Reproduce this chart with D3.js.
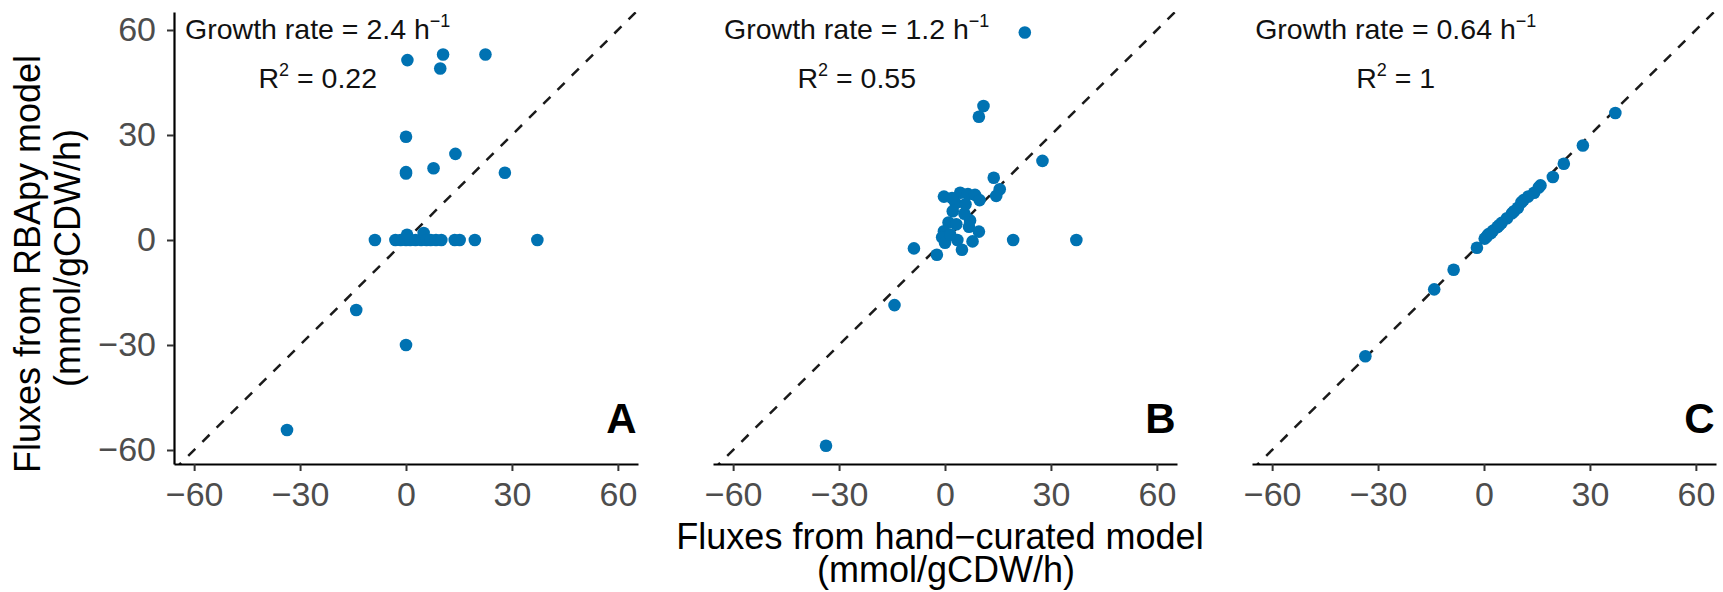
<!DOCTYPE html>
<html>
<head>
<meta charset="utf-8">
<script src="https://cdn.jsdelivr.net/npm/d3@7"></script>
<style>
  html, body { margin: 0; padding: 0; background: #ffffff; }
  svg { display: block; }
  text { font-family: "Liberation Sans", Arial, Helvetica, sans-serif; }
</style>
</head>
<body>
<svg id="chart" width="1723" height="592"></svg>
<script>
// Panel identifiers and their annotations
const panelLabels = ["A", "B", "C"];
const growthRates = ["2.4", "1.2", "0.64"];
const rSquared = ["0.22", "0.55", "1"];
const tickValues = [-60, -30, 0, 30, 60];

// Fluxes (mmol/gCDW/h): hand-curated model (x) vs RBApy model (y)
const fluxA_x = [0.4, 10.5, 22.5, 9.7, 0, 14, 0, 7.8, 28, 0,
                 -8.8, -3, -1.5, 0, 0.3, 1.2, 2.7, 4.3, 5, 5.8,
                 7, 8.5, 10, 13.8, 15.2, 19.5, 37.2,
                 -14.1, 0, -33.7];
const fluxA_y = [51.4, 53, 53, 49, 29.5, 24.6, 19.4, 20.5, 19.2, 19,
                 0, 0, 0, 0, 1.5, 0, 0, 0, 2, 0,
                 0, 0, 0, 0, 0, 0, 0,
                 -20, -30, -54.3];

const fluxB_x = [22.6, 10.9, 9.6, 27.6, 13.8, 15.5, 14.5, -0.3, 4.3, 6.5,
                 8.5, 9.8, 3, 2.2, 7.1, 1, 6.8, 9.6, -0.3, -0.8,
                 0, 3.5, 7.8, 4.8, 19.3, 37.2, -8.8, -2.3, -14.3, -33.7,
                 1.5, 5.5, 2, 5.8, 3.2];
const fluxB_y = [59.3, 38.3, 35.2, 22.6, 17.8, 14.5, 12.6, 12.4, 13.5, 13.1,
                 12.9, 11.4, 10.5, 8.2, 5.6, 5, 3.8, 2.4, 2.5, 0.8,
                 -0.8, 0, -0.4, -2.8, 0, 0, -2.4, -4.2, -18.6, -58.8,
                 1.5, 7.5, 12, 10.2, 4.5];

const fluxC_x = [37.2, 28, 22.6, 19.5, 15.5, 14.2, 10.6, 9.6, 7.9, 6.5,
                 5, 3.8, 2.5, 1.2, 0.2, -2, -8.6, -14.1, -33.6,
                 4.3, 11.2, 8.5, 0.8, 2, 12.5, 16];
const fluxC_y = [36.3, 27, 21.8, 18, 15, 13.5, 10.8, 9.2, 7.6, 6.2,
                 4.9, 3.7, 2.6, 1.6, 0.4, -2.2, -8.5, -14.1, -33.2,
                 4.2, 11.4, 8.2, 1, 2, 12.4, 15.6];

const panelX = [fluxA_x, fluxB_x, fluxC_x];
const panelY = [fluxA_y, fluxB_y, fluxC_y];

// Layout
const panelLeft = [174, 713, 1252];
const panelWidth = 464;
const panelTop = 12, panelBottom = 464;
const pointColor = "#0072B2";

const svg = d3.select("#chart");

const y = d3.scaleLinear().domain([-64, 65.14]).range([panelBottom, panelTop]);

panelLabels.forEach((label, i) => {
  const left = panelLeft[i];
  const x = d3.scaleLinear().domain([-65.7, 65.7]).range([left, left + panelWidth]);
  const g = svg.append("g");

  const clipId = "clip" + label;
  svg.append("clipPath").attr("id", clipId)
    .append("rect")
    .attr("x", left).attr("y", panelTop)
    .attr("width", panelWidth).attr("height", panelBottom - panelTop);

  // identity line y = x
  g.append("line")
    .attr("clip-path", `url(#${clipId})`)
    .attr("x1", x(-65.7)).attr("y1", y(-65.7))
    .attr("x2", x(65.7)).attr("y2", y(65.7))
    .attr("stroke", "#1a1a1a")
    .attr("stroke-width", 2.5)
    .attr("stroke-dasharray", "10,10");

  // points
  const pts = panelX[i].map((v, k) => ({ x: v, y: panelY[i][k] }));
  g.append("g").selectAll("circle").data(pts).join("circle")
    .attr("cx", d => x(d.x))
    .attr("cy", d => y(d.y))
    .attr("r", 6.3)
    .attr("fill", pointColor);

  // x axis
  const xAxis = g.append("g")
    .attr("transform", `translate(0,${panelBottom})`)
    .call(d3.axisBottom(x).tickValues(tickValues).tickSize(7).tickPadding(11).tickSizeOuter(0));
  xAxis.select(".domain").attr("stroke", "#000").attr("stroke-width", 2.2);
  xAxis.selectAll(".tick line").attr("stroke", "#333").attr("stroke-width", 2);
  xAxis.selectAll(".tick text").attr("fill", "#4D4D4D").attr("font-size", 34)
    .attr("font-family", "Liberation Sans, Arial, sans-serif");

  // y axis only on first panel
  if (i === 0) {
    const yAxis = g.append("g")
      .attr("transform", `translate(${left},0)`)
      .call(d3.axisLeft(y).tickValues(tickValues).tickSize(7).tickPadding(11).tickSizeOuter(0));
    yAxis.select(".domain").attr("stroke", "#000").attr("stroke-width", 2.2);
    yAxis.selectAll(".tick line").attr("stroke", "#333").attr("stroke-width", 2);
    yAxis.selectAll(".tick text").attr("fill", "#4D4D4D").attr("font-size", 34)
      .attr("font-family", "Liberation Sans, Arial, sans-serif");
  }

  // growth rate annotation
  const t1 = g.append("text")
    .attr("x", x(-25)).attr("y", y(60)).attr("dy", 9)
    .attr("text-anchor", "middle").attr("font-size", 28.5).attr("fill", "#111");
  t1.append("tspan").text(`Growth rate = ${growthRates[i]} h`);
  t1.append("tspan").attr("font-size", 18).attr("dy", -12).text("\u22121");

  // R squared annotation
  const t2 = g.append("text")
    .attr("x", x(-25)).attr("y", y(46)).attr("dy", 9.5)
    .attr("text-anchor", "middle").attr("font-size", 28.5).attr("fill", "#111");
  t2.append("tspan").text("R");
  t2.append("tspan").attr("font-size", 18).attr("dy", -12).text("2");
  t2.append("tspan").attr("dy", 12).text(` = ${rSquared[i]}`);

  // panel letter
  g.append("text")
    .attr("x", x(65.3)).attr("y", y(-55.1))
    .attr("text-anchor", "end")
    .attr("font-size", 42).attr("font-weight", "bold").attr("fill", "#000")
    .text(label);
});

// axis titles
const xTitle = svg.append("text").attr("text-anchor", "middle")
  .attr("font-size", 36).attr("fill", "#000");
xTitle.append("tspan").attr("x", 940).attr("y", 549).text("Fluxes from hand\u2212curated model");
xTitle.append("tspan").attr("x", 946).attr("y", 582).text("(mmol/gCDW/h)");

const yTitle = svg.append("g");
yTitle.append("text").attr("transform", "translate(40,264) rotate(-90)")
  .attr("text-anchor", "middle").attr("font-size", 36).attr("fill", "#000")
  .text("Fluxes from RBApy model");
yTitle.append("text").attr("transform", "translate(80,258) rotate(-90)")
  .attr("text-anchor", "middle").attr("font-size", 36).attr("fill", "#000")
  .text("(mmol/gCDW/h)");
</script>
</body>
</html>
